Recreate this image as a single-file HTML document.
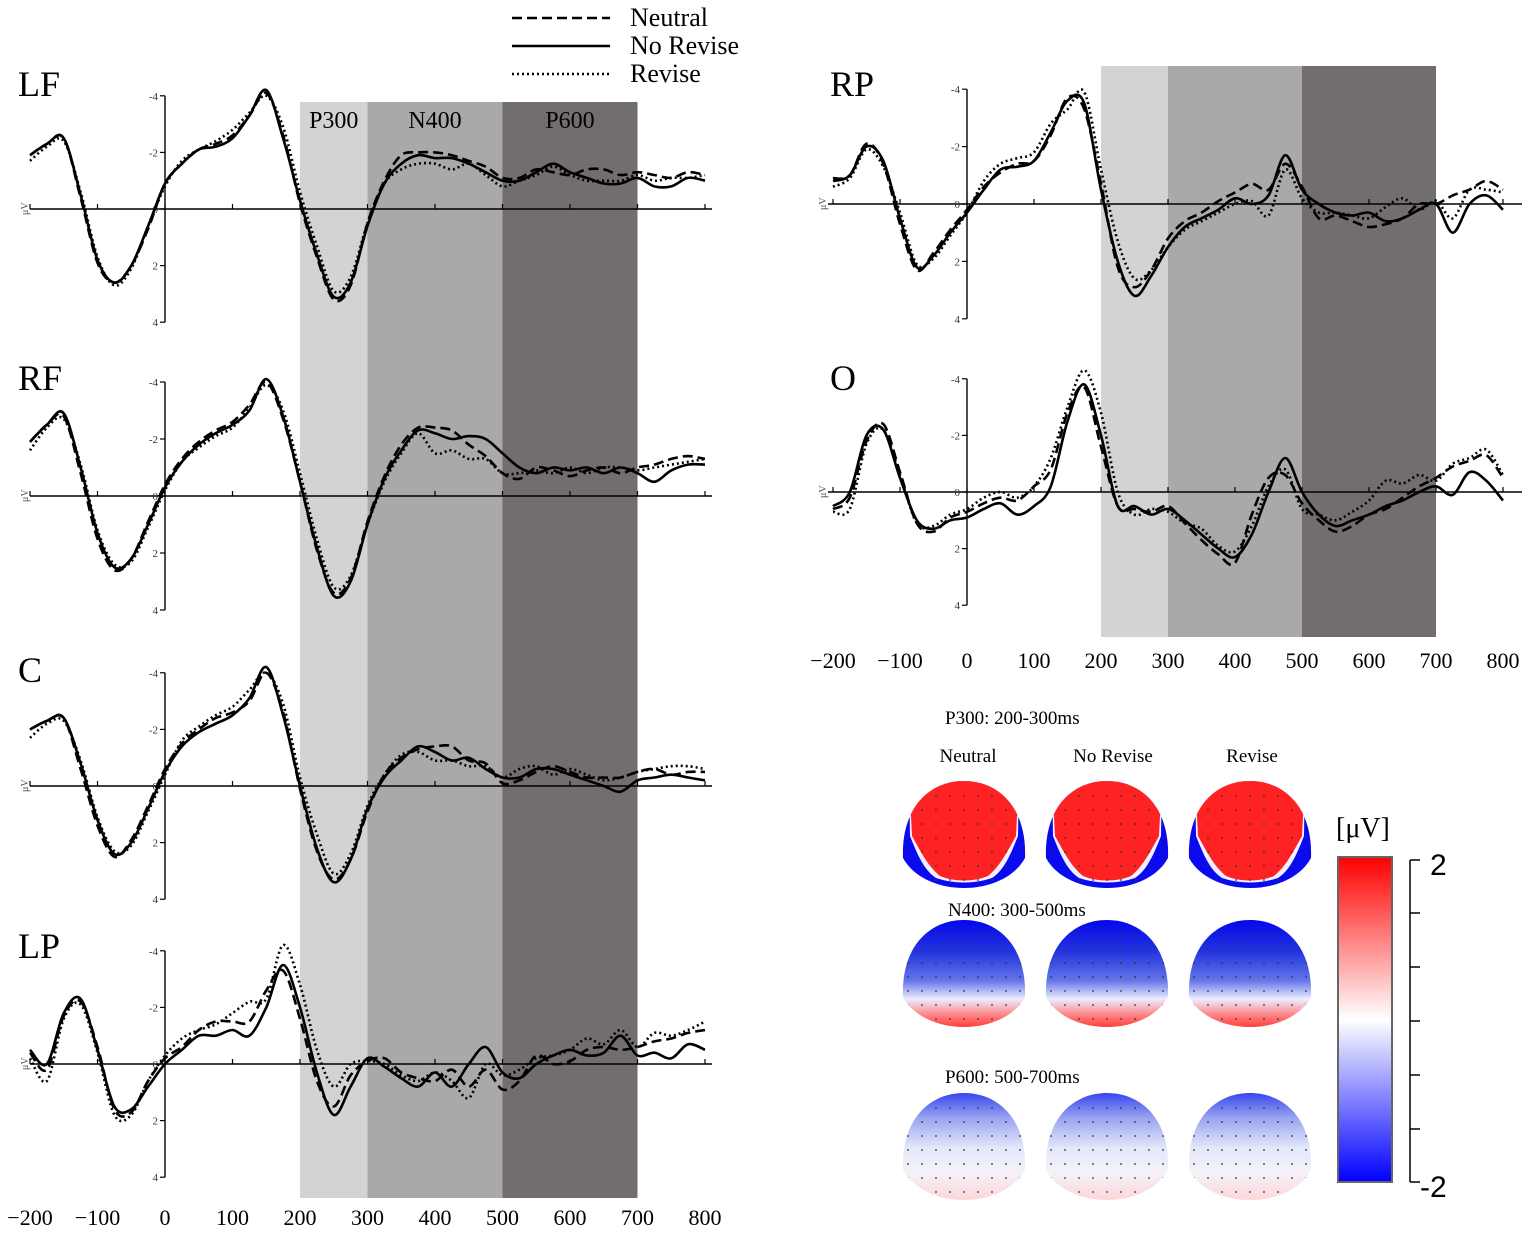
<!DOCTYPE html>
<html><head><meta charset="utf-8"><style>
body{margin:0;background:#fff;}
svg{display:block;font-family:"Liberation Serif",serif;}
</style></head><body>
<svg id="fig" width="1535" height="1243" viewBox="0 0 1535 1243" xmlns="http://www.w3.org/2000/svg">
<defs>
<linearGradient id="cbar" x1="0" y1="0" x2="0" y2="1">
<stop offset="0" stop-color="#ff0000"/><stop offset="0.5" stop-color="#ffffff"/><stop offset="1" stop-color="#0000ff"/></linearGradient>
<linearGradient id="gN400" x1="0" y1="0" x2="0" y2="1">
<stop offset="0" stop-color="#0000ee"/><stop offset="0.3" stop-color="#2233dd"/><stop offset="0.55" stop-color="#6677e8"/><stop offset="0.7" stop-color="#eeeeff"/><stop offset="0.85" stop-color="#ff7777"/><stop offset="1" stop-color="#ff1111"/></linearGradient>
<linearGradient id="gP600" x1="0" y1="0" x2="0" y2="1">
<stop offset="0" stop-color="#2233ee"/><stop offset="0.25" stop-color="#9aa4f0"/><stop offset="0.5" stop-color="#e4e8fa"/><stop offset="0.7" stop-color="#f4f2f8"/><stop offset="1" stop-color="#ffd0d0"/></linearGradient>
<clipPath id="headclip"><path d="M-61,22 C-63,-28 -35,-55 0,-55 C35,-55 63,-28 61,22 C50,42 25,52 0,52 C-25,52 -50,42 -61,22 Z"/></clipPath>
</defs>
<g id="shade"></g>
<g id="panels"></g>
<g id="legend">
<line x1="512" y1="18" x2="610" y2="18" stroke="#000" stroke-width="2.5" stroke-dasharray="10,5"/>
<text x="630" y="26" font-size="26">Neutral</text>
<line x1="512" y1="46" x2="610" y2="46" stroke="#000" stroke-width="2.5"/>
<text x="630" y="54" font-size="26">No Revise</text>
<line x1="512" y1="74" x2="610" y2="74" stroke="#000" stroke-width="2.5" stroke-dasharray="2,3"/>
<text x="630" y="82" font-size="26">Revise</text>
</g>
<g id="topo" font-size="19"></g>
</svg>
<script>
const times=[-200,-175,-150,-125,-100,-75,-50,-25,0,25,50,75,100,125,150,175,200,225,250,275,300,325,350,375,400,425,450,475,500,525,550,575,600,625,650,675,700,725,750,775,800];
const tickLabels=[-200,-100,0,100,200,300,400,500,600,700,800];
const yTicks=[-4,-2,0,2,4];
const windows=[200,300,500,700];
const windowNames=["P300","N400","P600"];
const LF_norevise=[-1.9,-2.3,-2.5,-0.5,1.8,2.6,2.0,0.6,-0.9,-1.6,-2.1,-2.2,-2.5,-3.3,-4.2,-2.5,-0.3,1.6,3.1,2.6,0.6,-0.9,-1.6,-1.9,-1.8,-1.8,-1.6,-1.3,-1.0,-1.0,-1.3,-1.6,-1.3,-1.1,-0.9,-0.9,-1.1,-0.8,-0.8,-1.1,-1.0];
const LF_neutral=[-1.9,-2.3,-2.5,-0.4,1.9,2.6,2.0,0.7,-0.9,-1.6,-2.1,-2.3,-2.6,-3.3,-4.1,-2.6,-0.2,1.7,3.2,2.7,0.5,-1.0,-1.9,-2.0,-2.0,-1.9,-1.7,-1.5,-1.1,-1.1,-1.4,-1.3,-1.2,-1.4,-1.4,-1.2,-1.3,-1.2,-1.1,-1.3,-1.2];
const LF_revise=[-1.7,-2.2,-2.4,-0.6,1.7,2.7,2.1,0.6,-0.8,-1.7,-2.1,-2.4,-2.8,-3.4,-4.0,-2.9,-0.6,1.3,2.9,2.4,0.5,-0.9,-1.4,-1.6,-1.6,-1.4,-1.6,-1.2,-0.8,-1.0,-1.2,-1.5,-1.2,-1.0,-1.0,-1.0,-1.2,-1.0,-1.1,-1.1,-1.2];
const RF_norevise=[-1.9,-2.5,-2.9,-1.0,1.3,2.5,2.2,1.0,-0.3,-1.2,-1.8,-2.2,-2.5,-3.0,-4.1,-2.8,-0.5,1.8,3.5,3.0,1.0,-0.6,-1.6,-2.3,-2.2,-2.0,-2.1,-2.0,-1.5,-1.0,-0.8,-1.0,-0.9,-1.0,-0.8,-1.0,-0.8,-0.5,-0.9,-1.1,-1.1];
const RF_neutral=[-1.9,-2.5,-2.8,-0.8,1.5,2.6,2.2,0.9,-0.4,-1.3,-1.9,-2.3,-2.6,-3.2,-4.0,-2.7,-0.5,1.9,3.4,2.9,0.9,-0.7,-1.8,-2.4,-2.4,-2.3,-1.8,-1.4,-0.8,-0.6,-1.0,-0.9,-0.7,-0.9,-1.0,-0.8,-1.0,-1.1,-1.3,-1.4,-1.3];
const RF_revise=[-1.6,-2.4,-2.7,-1.1,1.2,2.4,2.3,1.1,-0.2,-1.2,-1.7,-2.1,-2.4,-3.1,-3.9,-3.0,-0.8,1.5,3.2,2.8,1.0,-0.5,-1.5,-2.2,-1.5,-1.6,-1.3,-1.3,-0.8,-0.8,-0.9,-0.8,-1.0,-0.8,-1.0,-1.0,-0.9,-1.0,-1.1,-1.2,-1.3];
const C_norevise=[-2.0,-2.3,-2.4,-0.8,1.2,2.4,2.0,0.8,-0.5,-1.4,-1.9,-2.2,-2.5,-3.1,-4.2,-2.5,0.0,2.2,3.4,2.6,0.8,-0.3,-0.9,-1.4,-1.2,-0.9,-1.0,-0.6,-0.3,-0.3,-0.6,-0.6,-0.4,-0.2,0.0,0.2,-0.2,-0.3,-0.4,-0.3,-0.2];
const C_neutral=[-2.0,-2.3,-2.4,-0.6,1.4,2.5,1.9,0.7,-0.6,-1.5,-2.0,-2.4,-2.6,-3.0,-4.0,-2.6,0.1,2.3,3.3,2.6,0.9,-0.4,-1.0,-1.3,-1.4,-1.4,-0.9,-0.8,-0.1,-0.2,-0.5,-0.7,-0.5,-0.3,-0.3,-0.3,-0.5,-0.6,-0.4,-0.5,-0.5];
const C_revise=[-1.7,-2.2,-2.3,-0.9,1.1,2.3,2.1,0.9,-0.4,-1.6,-2.1,-2.5,-2.8,-3.4,-4.0,-2.9,-0.3,1.7,3.1,2.4,0.7,-0.4,-1.1,-1.2,-0.9,-0.9,-0.7,-0.7,-0.3,-0.6,-0.7,-0.4,-0.6,-0.4,-0.2,-0.3,-0.5,-0.6,-0.7,-0.7,-0.6];
const LP_norevise=[-0.5,0.0,-1.8,-2.3,-0.5,1.5,1.6,0.8,0.0,-0.5,-1.0,-1.0,-1.2,-1.0,-2.0,-3.5,-2.0,0.3,1.8,0.8,-0.2,0.1,0.5,0.8,0.3,0.8,0.0,-0.6,0.3,0.5,0.0,-0.3,-0.5,-0.3,-0.4,-1.0,-0.3,-0.4,-0.2,-0.7,-0.5];
const LP_neutral=[-0.4,0.2,-1.7,-2.2,-0.6,1.6,1.7,0.6,-0.2,-0.6,-1.2,-1.5,-1.5,-1.5,-2.6,-3.3,-1.6,0.6,1.5,0.4,-0.1,-0.2,0.3,0.5,0.6,0.2,0.8,0.2,0.9,0.6,-0.3,0.0,-0.1,-0.5,-0.6,-0.5,-0.6,-0.8,-0.9,-1.1,-1.2];
const LP_revise=[-0.2,0.6,-1.6,-2.1,-0.4,1.8,1.8,0.6,-0.3,-0.9,-1.2,-1.4,-1.8,-2.2,-2.3,-4.2,-2.8,-0.5,0.8,0.0,-0.1,0.0,0.4,0.6,0.3,0.6,1.2,0.0,0.4,0.2,-0.2,-0.3,-0.5,-0.9,-0.7,-1.2,-0.6,-1.1,-1.0,-1.2,-1.5];
const RP_norevise=[-0.8,-1.0,-2.0,-1.5,0.5,2.2,1.8,1.0,0.3,-0.5,-1.2,-1.3,-1.5,-2.5,-3.6,-3.5,-0.5,2.0,3.2,2.5,1.5,0.8,0.5,0.2,-0.2,0.0,-0.3,-1.7,-0.5,0.0,0.3,0.4,0.3,0.6,0.5,0.2,0.0,1.0,0.0,-0.3,0.2];
const RP_neutral=[-0.9,-1.0,-2.1,-1.4,0.7,2.3,1.7,0.9,0.2,-0.6,-1.1,-1.4,-1.5,-2.4,-3.7,-3.3,-0.7,2.2,2.9,2.3,1.2,0.6,0.3,-0.1,-0.4,-0.7,-0.5,-1.4,-0.6,0.5,0.4,0.6,0.8,0.7,0.5,0.0,0.0,-0.3,-0.5,-0.8,-0.5];
const RP_revise=[-0.6,-0.9,-1.9,-1.3,0.3,2.1,1.9,1.1,0.3,-0.8,-1.4,-1.6,-1.8,-2.8,-3.3,-3.9,-1.2,1.3,2.6,2.3,1.5,0.9,0.6,0.3,0.0,-0.1,0.4,-1.2,-0.2,0.3,0.3,0.4,0.5,0.1,-0.2,0.2,-0.1,0.5,-0.5,-0.5,-0.4];
const O_norevise=[0.5,0.0,-2.0,-2.2,-0.5,1.0,1.3,1.0,0.9,0.6,0.4,0.8,0.5,-0.2,-2.5,-3.8,-2.0,0.5,0.5,0.8,0.6,1.0,1.5,2.0,2.3,1.5,0.0,-1.2,0.0,0.8,1.2,1.0,0.8,0.5,0.3,0.0,-0.2,0.1,-0.7,-0.4,0.3];
const O_neutral=[0.6,0.2,-1.8,-2.4,-0.7,1.1,1.4,0.9,0.7,0.4,0.2,0.3,-0.2,-0.8,-2.8,-3.7,-1.6,0.5,0.6,0.7,0.5,1.1,1.7,2.2,2.5,0.8,-0.5,-0.6,0.4,1.0,1.4,1.2,0.8,0.6,0.2,-0.2,-0.5,-0.9,-1.1,-1.3,-0.5];
const O_revise=[0.7,0.6,-1.7,-2.2,-0.6,1.1,1.2,0.8,0.6,0.2,0.0,0.2,-0.2,-1.2,-3.0,-4.3,-2.8,0.0,0.8,0.6,0.7,1.1,1.3,1.9,2.1,1.2,-0.2,-0.8,0.6,0.8,1.0,0.7,0.3,-0.4,-0.3,-0.6,-0.4,-1.0,-1.2,-1.5,-0.6];

const NS="http://www.w3.org/2000/svg";
const panels=[
 {id:"LF",x0:165,s:0.675,zy:209,u:28.3,xa:30,xb:712,lx:18,ly:96,d:[LF_neutral,LF_norevise,LF_revise]},
 {id:"RF",x0:165,s:0.675,zy:496,u:28.5,xa:30,xb:712,lx:18,ly:390,d:[RF_neutral,RF_norevise,RF_revise]},
 {id:"C",x0:165,s:0.675,zy:786,u:28.3,xa:30,xb:712,lx:18,ly:682,d:[C_neutral,C_norevise,C_revise]},
 {id:"LP",x0:165,s:0.675,zy:1064,u:28.3,xa:30,xb:712,lx:18,ly:958,d:[LP_neutral,LP_norevise,LP_revise]},
 {id:"RP",x0:967,s:0.67,zy:204,u:28.7,xa:828,xb:1522,lx:830,ly:96,d:[RP_neutral,RP_norevise,RP_revise]},
 {id:"O",x0:967,s:0.67,zy:492,u:28.3,xa:828,xb:1522,lx:830,ly:390,d:[O_neutral,O_norevise,O_revise]}
];
function el(tag,attrs,parent){const e=document.createElementNS(NS,tag);for(const k in attrs)e.setAttribute(k,attrs[k]);parent.appendChild(e);return e;}
const shade=document.getElementById('shade');
const shadeCols=["#d4d3d3","#aaa8a8","#726e6d"];
[[165,0.675,102,1198],[967,0.67,66,637]].forEach((c,ci)=>{
 for(let i=0;i<3;i++){
  const xa=c[0]+c[1]*windows[i],xb=c[0]+c[1]*windows[i+1];
  const r=el('rect',{x:xa,y:c[2],width:xb-xa,height:c[3]-c[2],fill:shadeCols[i]},shade);
  
  
  if(ci===0){const t=el('text',{x:(xa+xb)/2,y:128,'font-size':24,'text-anchor':'middle'},shade);t.textContent=windowNames[i];
   
   }
 }
});
const pg=document.getElementById('panels');
function path(p,vals){
 const pts=times.map((t,i)=>[p.x0+p.s*t,p.zy+vals[i]*p.u]);
 let d='M'+pts[0][0].toFixed(1)+','+pts[0][1].toFixed(1);
 for(let i=0;i<pts.length-1;i++){
  const a=pts[Math.max(0,i-1)],b=pts[i],c=pts[i+1],e=pts[Math.min(pts.length-1,i+2)];
  const c1=[b[0]+(c[0]-a[0])/6,b[1]+(c[1]-a[1])/6],c2=[c[0]-(e[0]-b[0])/6,c[1]-(e[1]-b[1])/6];
  d+=' C'+c1[0].toFixed(1)+','+c1[1].toFixed(1)+' '+c2[0].toFixed(1)+','+c2[1].toFixed(1)+' '+c[0].toFixed(1)+','+c[1].toFixed(1);
 }
 return d;
}
const styles=[{dash:"10,5",n:"neutral"},{dash:"none",n:"norevise"},{dash:"2,3",n:"revise"}];
panels.forEach(p=>{
 const g=el('g',{},pg);
 
 
 const lab=el('text',{x:p.lx,y:p.ly,'font-size':36},g);lab.textContent=p.id;
 
 
 const ax=el('line',{x1:p.xa,y1:p.zy,x2:p.xb,y2:p.zy,stroke:'#000','stroke-width':1.6},g);
 
 
 tickLabels.forEach(t=>{const x=p.x0+p.s*t;el('line',{x1:x,y1:p.zy,x2:x,y2:p.zy-5,stroke:'#000','stroke-width':1.2},g);});
 const yv=el('line',{x1:p.x0,y1:p.zy-4*p.u,x2:p.x0,y2:p.zy+4*p.u,stroke:'#000','stroke-width':1.4},g);
 
 
 yTicks.forEach(v=>{const y=p.zy+v*p.u;el('line',{x1:p.x0-5,y1:y,x2:p.x0,y2:y,stroke:'#000','stroke-width':1.2},g);
  const t=el('text',{x:p.x0-7,y:y+4,'font-size':11,'text-anchor':'end',fill:'#333'},g);t.textContent=String(v);
  
  });
 const uv=el('text',{x:0,y:0,'font-size':10,fill:'#555',transform:`translate(${p.xa-2},${p.zy+6}) rotate(-90)`},g);uv.textContent='μV';
 p.d.forEach((vals,i)=>{
  const pa=el('path',{d:path(p,vals),fill:'none',stroke:'#000','stroke-width':2.6,'stroke-dasharray':styles[i].dash,'stroke-linejoin':'round'},g);
  
  
 });
});
[[165,0.675,1225],[967,0.67,668]].forEach(c=>{
 tickLabels.forEach(t=>{const tx=el('text',{x:c[0]+c[1]*t,y:c[2],'font-size':22,'text-anchor':'middle'},pg);tx.textContent=String(t).replace('-','−');
  
  });
});
const topo=document.getElementById('topo');
function txt(s,x,y,anchor,name,size){const t=el('text',{x:x,y:y,'text-anchor':anchor,'font-size':size||19},topo);t.textContent=s;
 
 return t;}
txt('P300: 200-300ms',945,724,'start','topo-title-p300');
txt('N400: 300-500ms',948,916,'start','topo-title-n400');
txt('P600: 500-700ms',945,1083,'start','topo-title-p600');
txt('Neutral',968,762,'middle','topo-col-neutral');
txt('No Revise',1113,762,'middle','topo-col-norevise');
txt('Revise',1252,762,'middle','topo-col-revise');
const cx=[964,1107,1250];
const rows=[{cy:836,k:'p300'},{cy:975,k:'n400'},{cy:1148,k:'p600'}];
rows.forEach(r=>{cx.forEach((x,i)=>{
 const g=el('g',{transform:`translate(${x},${r.cy})`,'clip-path':'url(#headclip)'},topo);
 
 
 if(r.k==='p300'){
  el('rect',{x:-70,y:-60,width:140,height:120,fill:'#0a0af0'},g);
  el('path',{d:'M-55,-60 L55,-60 L54,0 C46,20 40,34 28,42 C10,48 -10,48 -28,42 C-40,34 -46,20 -54,0 Z',fill:'#f0f0ff'},g);
  el('path',{d:'M-55,-60 L55,-60 L52,0 C42,18 36,30 24,40 C10,46 -10,46 -24,40 C-36,30 -42,18 -52,0 Z',fill:'#ff2222'},g);
 } else {
  el('rect',{x:-70,y:-60,width:140,height:120,fill:r.k==='n400'?'url(#gN400)':'url(#gP600)'},g);
 }
 for(let yy=-40;yy<=48;yy+=14)for(let xx=-56;xx<=56;xx+=14)el('circle',{cx:xx,cy:yy,r:0.9,fill:'#333'},g);
});});
const cb=el('rect',{x:1338,y:857,width:54,height:325,fill:'url(#cbar)',stroke:'#666','stroke-width':2},topo);


txt('[μV]',1336,837,'start','colorbar-unit',28);
el('line',{x1:1410,y1:860,x2:1410,y2:1182,stroke:'#000','stroke-width':1.5},topo);
[860,913,967,1021,1075,1129,1182].forEach(y=>el('line',{x1:1410,y1:y,x2:1420,y2:y,stroke:'#000','stroke-width':1.5},topo));
const t2=txt('2',1430,875,'start','colorbar-max',30);t2.setAttribute('font-family','"Liberation Sans",sans-serif');
const tm=txt('-2',1420,1197,'start','colorbar-min',30);tm.setAttribute('font-family','"Liberation Sans",sans-serif');
</script>
</body></html>
